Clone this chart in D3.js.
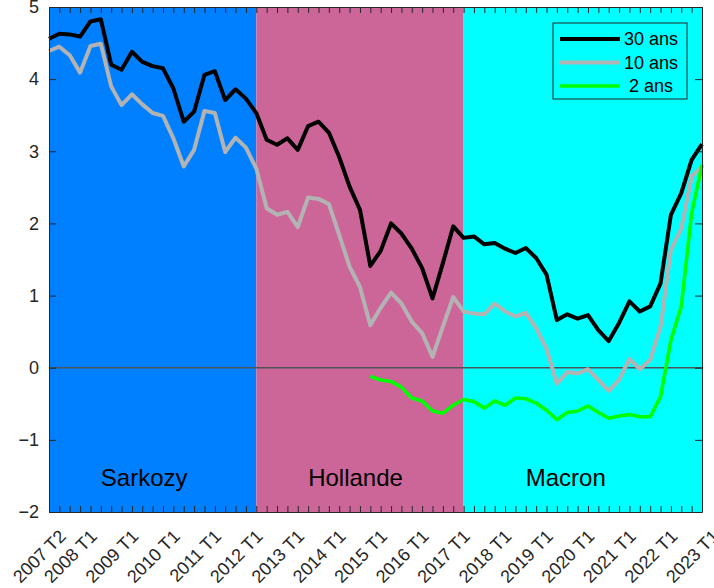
<!DOCTYPE html>
<html>
<head>
<meta charset="utf-8">
<script src="https://cdn.jsdelivr.net/npm/d3@7"></script>
<style>
  html, body { margin: 0; padding: 0; background: #ffffff; }
  svg { display: block; font-family: Arial, "Liberation Sans", Helvetica, sans-serif; }
</style>
</head>
<body>
<svg id="chart" width="714" height="588"></svg>
<script>
// ---------- DATA ----------
const quarters = [
  "2007 T2","2007 T3","2007 T4",
  "2008 T1","2008 T2","2008 T3","2008 T4",
  "2009 T1","2009 T2","2009 T3","2009 T4",
  "2010 T1","2010 T2","2010 T3","2010 T4",
  "2011 T1","2011 T2","2011 T3","2011 T4",
  "2012 T1","2012 T2","2012 T3","2012 T4",
  "2013 T1","2013 T2","2013 T3","2013 T4",
  "2014 T1","2014 T2","2014 T3","2014 T4",
  "2015 T1","2015 T2","2015 T3","2015 T4",
  "2016 T1","2016 T2","2016 T3","2016 T4",
  "2017 T1","2017 T2","2017 T3","2017 T4",
  "2018 T1","2018 T2","2018 T3","2018 T4",
  "2019 T1","2019 T2","2019 T3","2019 T4",
  "2020 T1","2020 T2","2020 T3","2020 T4",
  "2021 T1","2021 T2","2021 T3","2021 T4",
  "2022 T1","2022 T2","2022 T3","2022 T4",
  "2023 T1"
];

const tickLabels = ["2007 T2","2008 T1","2009 T1","2010 T1","2011 T1","2012 T1","2013 T1",
  "2014 T1","2015 T1","2016 T1","2017 T1","2018 T1","2019 T1","2020 T1","2021 T1","2022 T1","2023 T1"];

const yTicks = [-2, -1, 0, 1, 2, 3, 4, 5];

// 30-year yield (from 2007 T2)
const taux30 = [
  4.56, 4.63, 4.62, 4.59, 4.80, 4.83, 4.20, 4.13, 4.38, 4.24,
  4.18, 4.15, 3.87, 3.41, 3.55, 4.06, 4.11, 3.71, 3.86, 3.73,
  3.53, 3.16, 3.09, 3.18, 3.02, 3.35, 3.41, 3.26, 2.92, 2.51,
  2.19, 1.41, 1.62, 2.00, 1.86, 1.65, 1.38, 0.96, 1.45, 1.96,
  1.80, 1.82, 1.71, 1.73, 1.65, 1.59, 1.66, 1.52, 1.29, 0.66,
  0.74, 0.68, 0.73, 0.52, 0.37, 0.62, 0.92, 0.78, 0.85, 1.17,
  2.12, 2.42, 2.88, 3.10
];

// 10-year yield (from 2007 T2)
const taux10 = [
  4.39, 4.45, 4.33, 4.09, 4.46, 4.49, 3.90, 3.64, 3.79, 3.65,
  3.53, 3.49, 3.18, 2.79, 3.02, 3.56, 3.53, 2.99, 3.19, 3.05,
  2.76, 2.21, 2.12, 2.16, 1.95, 2.36, 2.34, 2.27, 1.84, 1.40,
  1.12, 0.59, 0.83, 1.04, 0.89, 0.64, 0.48, 0.15, 0.57, 0.98,
  0.78, 0.75, 0.74, 0.89, 0.78, 0.71, 0.76, 0.55, 0.26, -0.22,
  -0.06, -0.08, -0.02, -0.17, -0.32, -0.17, 0.12, -0.02, 0.11, 0.57,
  1.63, 1.93, 2.65, 2.79
];

// 2-year yield (from 2015 T1)
const taux2Start = "2015 T1";
const taux2 = [
  -0.12, -0.17, -0.19, -0.27, -0.42, -0.46, -0.60, -0.63, -0.52, -0.44,
  -0.47, -0.56, -0.46, -0.52, -0.42, -0.43, -0.49, -0.59, -0.72, -0.62,
  -0.60, -0.53, -0.62, -0.70, -0.67, -0.65, -0.68, -0.68, -0.40, 0.38,
  0.85, 2.14, 2.81
];

const presidents = ["Sarkozy", "Hollande", "Macron"];
const mandateStart = ["2007 T2", "2012 T2", "2017 T2"];
const mandateEnd = ["2012 T2", "2017 T2", "2023 T1"];
const mandateColors = ["#0080ff", "#cc6699", "#00ffff"];
const mandateLabelAt = ["2008 T3", "2013 T3", "2018 T4"];

const seriesNames = ["30 ans", "10 ans", " 2 ans"];
const seriesColors = ["#000000", "#b3b3b3", "#00ff00"];

// ---------- CHART ----------
const svg = d3.select("#chart");
const pLeft = 49, pRight = 702, pTop = 7, pBottom = 512;

const x = d3.scalePoint().domain(quarters).range([pLeft, pRight]);
const y = d3.scaleLinear().domain([-2, 5]).range([pBottom, pTop]);

// mandate backgrounds
svg.append("g").selectAll("rect")
  .data(presidents)
  .join("rect")
  .attr("x", (d, i) => x(mandateStart[i]))
  .attr("y", pTop)
  .attr("width", (d, i) => x(mandateEnd[i]) - x(mandateStart[i]))
  .attr("height", pBottom - pTop)
  .attr("fill", (d, i) => mandateColors[i]);

// zero line
svg.append("line")
  .attr("x1", pLeft).attr("x2", pRight)
  .attr("y1", y(0)).attr("y2", y(0))
  .attr("stroke", "#4d5558").attr("stroke-width", 1.5);

// series
const line = d3.line().x(d => x(d.q)).y(d => y(d.v)).curve(d3.curveLinear);
const s30 = taux30.map((v, i) => ({ q: quarters[i], v }));
const s10 = taux10.map((v, i) => ({ q: quarters[i], v }));
const start2 = quarters.indexOf(taux2Start);
const s2 = taux2.map((v, i) => ({ q: quarters[start2 + i], v }));
const allSeries = [s30, s10, s2];
const widths = [4, 4, 3.6];

svg.append("g").selectAll("path")
  .data(allSeries)
  .join("path")
  .attr("d", d => line(d))
  .attr("fill", "none")
  .attr("stroke", (d, i) => seriesColors[i])
  .attr("stroke-width", (d, i) => widths[i])
  .attr("stroke-linejoin", "round");

// mandate labels
svg.append("g").selectAll("text")
  .data(presidents)
  .join("text")
  .attr("x", (d, i) => x(mandateLabelAt[i]))
  .attr("y", y(-1.64))
  .attr("font-size", 24)
  .attr("fill", "#000")
  .text(d => d);

// axes
const axisColor = "#262626";
function styleAxis(g) {
  g.selectAll("path.domain").attr("stroke", axisColor).attr("stroke-width", 1);
  g.selectAll(".tick line").attr("stroke", axisColor).attr("stroke-width", 1);
  g.selectAll("text").attr("fill", axisColor);
}

svg.append("g")
  .attr("transform", `translate(0,${pBottom})`)
  .call(d3.axisBottom(x).tickValues(quarters).tickSizeInner(-6).tickSizeOuter(0).tickFormat(""))
  .call(styleAxis);

svg.append("g")
  .attr("transform", `translate(0,${pTop})`)
  .call(d3.axisTop(x).tickValues(quarters).tickSizeInner(-6).tickSizeOuter(0).tickFormat(""))
  .call(styleAxis);

// rotated tick labels
const xl = svg.append("g")
  .attr("transform", `translate(0,${pBottom})`)
  .call(d3.axisBottom(x).tickValues(tickLabels).tickSize(0).tickPadding(0))
  .call(g => g.select(".domain").remove());
xl.selectAll("text")
  .attr("font-size", 18)
  .attr("font-family", "Arial, 'Liberation Sans', sans-serif")
  .attr("fill", axisColor)
  .attr("text-anchor", "end")
  .attr("x", 0).attr("y", 0).attr("dy", "0.35em")
  .attr("transform", "translate(13,21) rotate(-45)");

svg.append("g")
  .attr("transform", `translate(${pLeft},0)`)
  .call(d3.axisLeft(y).tickValues(yTicks).tickSizeInner(-7).tickSizeOuter(0).tickPadding(10).tickFormat(d3.format("d")))
  .call(styleAxis)
  .call(g => g.selectAll("text").attr("font-size", 18).attr("font-family", "Arial, 'Liberation Sans', sans-serif"));

svg.append("g")
  .attr("transform", `translate(${pRight},0)`)
  .call(d3.axisRight(y).tickValues(yTicks).tickSizeInner(-7).tickSizeOuter(0).tickFormat(""))
  .call(styleAxis);

// legend
const lg = svg.append("g").attr("transform", "translate(553,23)");
lg.append("rect")
  .attr("width", 134).attr("height", 76)
  .attr("fill", "none").attr("stroke", axisColor).attr("stroke-width", 1);
const items = lg.selectAll("g.item").data(seriesNames).join("g")
  .attr("class", "item")
  .attr("transform", (d, i) => `translate(0,${16 + i * 23.5})`);
items.append("line")
  .attr("x1", 7).attr("x2", 67)
  .attr("stroke", (d, i) => seriesColors[i])
  .attr("stroke-width", (d, i) => widths[i]);
items.append("text")
  .attr("x", 71).attr("dy", "0.35em")
  .attr("font-size", 18)
  .style("white-space", "pre")
  .attr("fill", "#000")
  .text(d => d);
</script>
</body>
</html>
